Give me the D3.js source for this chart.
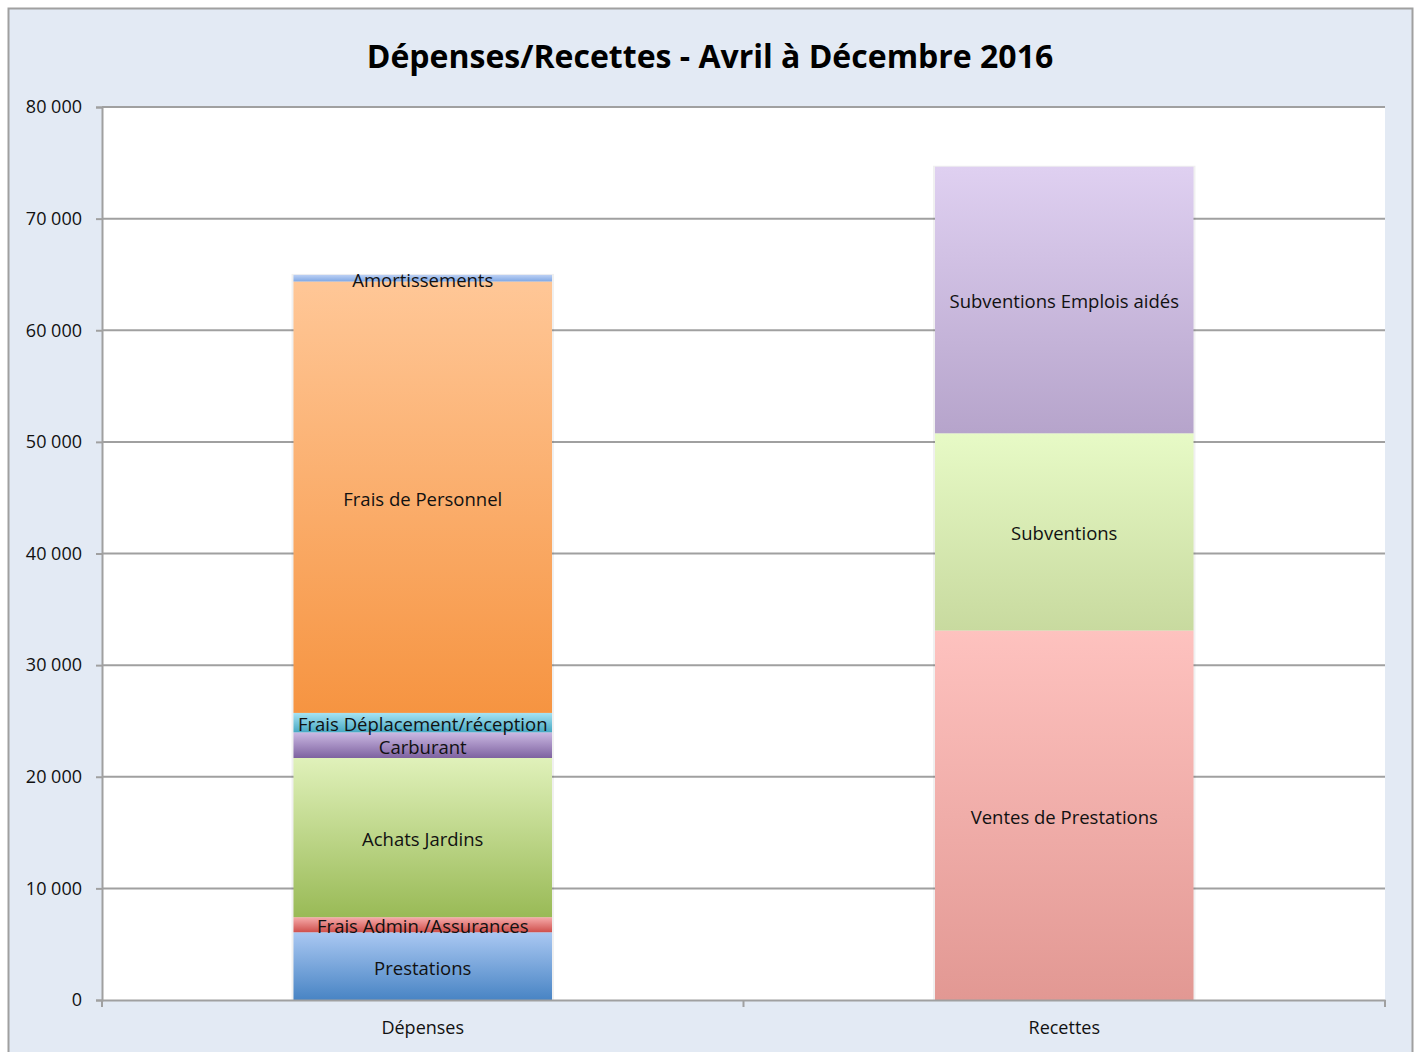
<!DOCTYPE html>
<html>
<head>
<meta charset="utf-8">
<script src="https://cdn.jsdelivr.net/npm/d3@7"></script>
<style>
  body { margin: 0; background: #fff; }
  text { font-family: "Open Sans", sans-serif; }
</style>
</head>
<body>
<script>
var categories = ["Dépenses", "Recettes"]

// segments per category, bottom to top
var depensesNames = ["Prestations", "Frais Admin./Assurances", "Achats Jardins", "Carburant",
                     "Frais Déplacement/réception", "Frais de Personnel", "Amortissements"]
var depensesValues = [6070, 1350, 14260, 2300, 1740, 38650, 590]

var recettesNames = ["Ventes de Prestations", "Subventions", "Subventions Emplois aidés"]
var recettesValues = [33100, 17670, 23880]

var yTicks = [0, 10000, 20000, 30000, 40000, 50000, 60000, 70000, 80000]

// gradient colors, top then bottom
var depensesColors = [["#aac8f2", "#4884c4"], ["#f6acab", "#cf4f4c"], ["#e0f1ba", "#99ba56"],
                      ["#cbb9e3", "#7e62a0"], ["#a6e3f3", "#46a8c3"], ["#ffc797", "#f69441"],
                      ["#bcd0f4", "#80a8e4"]]
var recettesColors = [["#fec2bf", "#e29893"], ["#e7fac6", "#c8da9f"], ["#dfd0f1", "#b6a4cb"]]

var width = 1420
var height = 1052
var plotLeft = 102, plotRight = 1385, plotTop = 107, plotBottom = 1000

var svg = d3.select("body").append("svg")
  .attr("width", width)
  .attr("height", height)

// outer frame
svg.append("rect")
  .attr("x", 8.5).attr("y", 8.5)
  .attr("width", 1404).attr("height", 1060)
  .attr("fill", "#e3eaf4")
  .attr("stroke", "#a0a0a0")
  .attr("stroke-width", 2)

svg.append("rect")
  .attr("x", plotLeft).attr("y", plotTop)
  .attr("width", plotRight - plotLeft).attr("height", plotBottom - plotTop)
  .attr("fill", "#fff")

svg.append("text")
  .attr("x", 710).attr("y", 68)
  .attr("text-anchor", "middle")
  .attr("font-size", 32)
  .attr("font-weight", "bold")
  .text("Dépenses/Recettes - Avril à Décembre 2016")

var xScale = d3.scaleBand()
  .domain(categories)
  .range([plotLeft, plotRight])

var yScale = d3.scaleLinear()
  .domain([0, 80000])
  .range([plotBottom, plotTop])

// grid
svg.append("g")
  .selectAll("line")
  .data(yTicks.slice(1))
  .enter()
  .append("line")
  .attr("x1", plotLeft).attr("x2", plotRight)
  .attr("y1", function(d) { return yScale(d) })
  .attr("y2", function(d) { return yScale(d) })
  .attr("stroke", "#a0a0a0")
  .attr("stroke-width", 2)

var defs = svg.append("defs")
var makeGrad = function(id, c) {
  var g = defs.append("linearGradient").attr("id", id)
    .attr("x1", 0).attr("y1", 0).attr("x2", 0).attr("y2", 1)
  g.append("stop").attr("offset", "0%").attr("stop-color", c[0])
  g.append("stop").attr("offset", "100%").attr("stop-color", c[1])
}

var barW = xScale.bandwidth() * 0.403

var drawStack = function(cat, names, values, colors, key) {
  var cx = xScale(cat) + xScale.bandwidth() / 2
  var acc = 0
  var segs = values.map(function(v, i) {
    var s = {name: names[i], y0: acc, y1: acc + v, color: colors[i], id: key + i}
    acc += v
    return s
  })
  segs.forEach(function(s) { makeGrad(s.id, s.color) })
  var g = svg.append("g")
  // soft shadow
  g.append("rect")
    .attr("x", cx - barW / 2 - 2)
    .attr("y", yScale(acc) - 1)
    .attr("width", barW + 4)
    .attr("height", yScale(0) - yScale(acc) + 1)
    .attr("fill", "#000")
    .attr("opacity", 0.06)
  g.selectAll("rect.seg")
    .data(segs)
    .enter()
    .append("rect")
    .attr("class", "seg")
    .attr("x", cx - barW / 2)
    .attr("y", function(d) { return yScale(d.y1) })
    .attr("width", barW)
    .attr("height", function(d) { return yScale(d.y0) - yScale(d.y1) })
    .attr("fill", function(d) { return "url(#" + d.id + ")" })
  g.selectAll("text")
    .data(segs)
    .enter()
    .append("text")
    .attr("x", cx)
    .attr("y", function(d) { return (yScale(d.y0) + yScale(d.y1)) / 2 + 2 })
    .attr("dy", "0.35em")
    .attr("text-anchor", "middle")
    .attr("font-size", 18.5)
    .attr("fill", "#111")
    .text(function(d) { return d.name })
}

drawStack("Dépenses", depensesNames, depensesValues, depensesColors, "dep")
drawStack("Recettes", recettesNames, recettesValues, recettesColors, "rec")

// y axis
var yAxis = d3.axisLeft(yScale)
  .tickValues(yTicks)
  .tickSize(6)
  .tickPadding(14)
  .tickFormat(function(d) { return d3.format(",")(d).replace(/,/g, " ") })

var ya = svg.append("g")
  .attr("transform", "translate(" + plotLeft + ",0)")
  .call(yAxis)
ya.selectAll("path, line").attr("stroke", "#a0a0a0").attr("stroke-width", 2)
ya.selectAll("text").attr("font-size", 18).attr("fill", "#111").attr("font-family", "Open Sans")

// x axis
var xa = svg.append("g")
  .attr("transform", "translate(0," + plotBottom + ")")
  .call(d3.axisBottom(xScale).tickSize(0).tickPadding(21))
xa.select("path").attr("stroke", "#a0a0a0").attr("stroke-width", 2)
xa.selectAll("text").attr("font-size", 18).attr("fill", "#111").attr("font-family", "Open Sans")

// category boundary ticks
svg.append("g")
  .selectAll("line")
  .data([plotLeft, plotLeft + xScale.bandwidth(), plotRight])
  .enter()
  .append("line")
  .attr("x1", function(d) { return d }).attr("x2", function(d) { return d })
  .attr("y1", plotBottom).attr("y2", plotBottom + 7)
  .attr("stroke", "#a0a0a0")
  .attr("stroke-width", 2)
</script>
</body>
</html>
